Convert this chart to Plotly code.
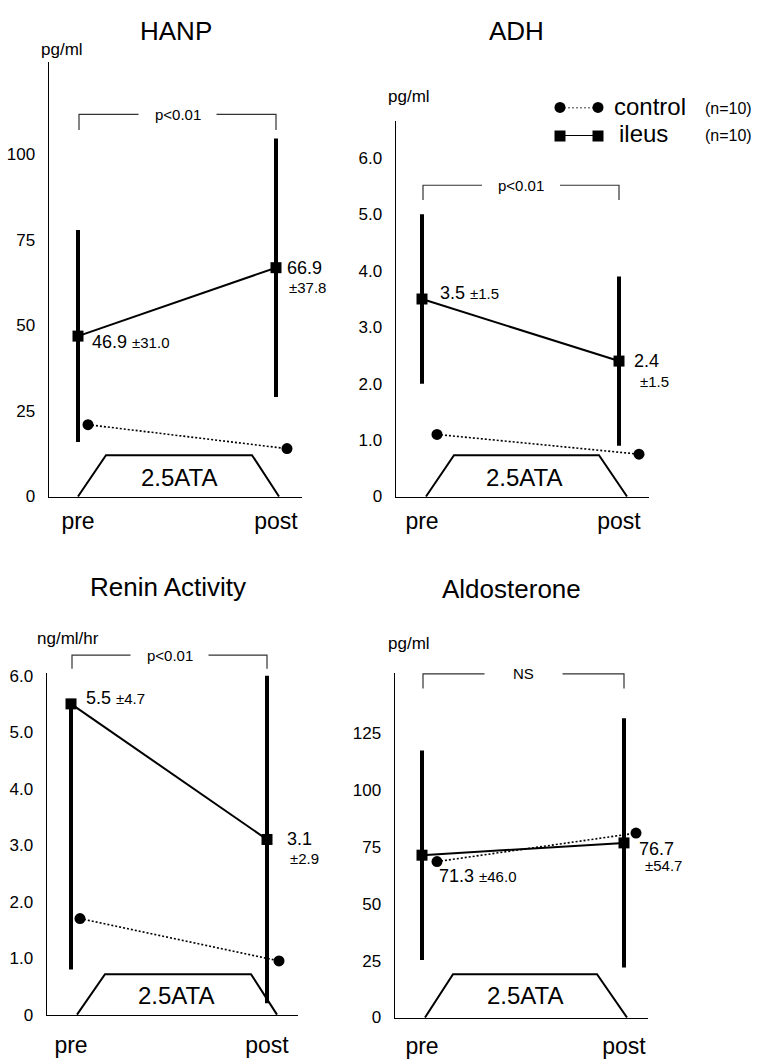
import plotly.graph_objects as go

W, H = 760, 1063
FONT = "Liberation Sans, Arial, Helvetica, sans-serif"

# ---------------- data ----------------
timepoints = ["pre", "post"]
panel_titles = ["HANP", "ADH", "Renin Activity", "Aldosterone"]
panel_units = ["pg/ml", "pg/ml", "ng/ml/hr", "pg/ml"]
significance = ["p<0.01", "p<0.01", "p<0.01", "NS"]

hanp_ileus_mean = [46.9, 66.9]
hanp_ileus_sd_up = [31.0, 37.8]
hanp_ileus_sd_down = [31.0, 37.8]
hanp_control_mean = [21.0, 14.0]

adh_ileus_mean = [3.5, 2.4]
adh_ileus_sd_up = [1.5, 1.5]
adh_ileus_sd_down = [1.5, 1.5]
adh_control_mean = [1.1, 0.75]

renin_ileus_mean = [5.5, 3.1]
renin_ileus_sd_up = [0.0, 2.9]      # upper bar of "pre" not drawn in the original
renin_ileus_sd_down = [4.7, 2.9]
renin_control_mean = [1.7, 0.95]

aldo_ileus_mean = [71.3, 76.7]
aldo_ileus_sd_up = [46.0, 54.7]
aldo_ileus_sd_down = [46.0, 54.7]
aldo_control_mean = [68.5, 81.0]

ileus_labels_sd = [["±31.0", "±37.8"], ["±1.5", "±1.5"], ["±4.7", "±2.9"], ["±46.0", "±54.7"]]

hanp_ticks = [0, 25, 50, 75, 100]
hanp_ticktext = ["0", "25", "50", "75", "100"]
adh_ticks = [0, 1, 2, 3, 4, 5, 6]
adh_ticktext = ["0", "1.0", "2.0", "3.0", "4.0", "5.0", "6.0"]
renin_ticks = [0, 1, 2, 3, 4, 5, 6]
renin_ticktext = ["0", "1.0", "2.0", "3.0", "4.0", "5.0", "6.0"]
aldo_ticks = [0, 25, 50, 75, 100, 125]
aldo_ticktext = ["0", "25", "50", "75", "100", "125"]

legend_names = ["control", "ileus"]
legend_n = ["(n=10)", "(n=10)"]
chamber_label = "2.5ATA"

# ---------------- layout geometry (pixels) ----------------
geo = [
    dict(x0=49, x1=302, ytop=57, ybot=498, pre=78, post=276, ymax=127.0,
         ticks=hanp_ticks, ticktext=hanp_ticktext, xlab_len=3,
         mean=hanp_ileus_mean, up=hanp_ileus_sd_up, dn=hanp_ileus_sd_down, ctrl=hanp_control_mean,
         ctrl_dx=[10, 11], title=(176, 25), unit=(62, 44), brk_y=110, brk_drop=16,
         trap=(78, 279, 106, 252, 456), trap_txt=(179, 479),
         lab_pre=(12, -6, None), lab_post=(9, 0, (11, -20))),
    dict(x0=396, x1=649, ytop=117, ybot=498, pre=422, post=619, ymax=6.65,
         ticks=adh_ticks, ticktext=adh_ticktext, xlab_len=3,
         mean=adh_ileus_mean, up=adh_ileus_sd_up, dn=adh_ileus_sd_down, ctrl=adh_control_mean,
         ctrl_dx=[15, 20], title=(516, 25), unit=(409, 92), brk_y=182, brk_drop=15,
         trap=(426, 627, 454, 599, 456), trap_txt=(524, 479),
         lab_pre=(16, 6, None), lab_post=(13, 0, (19, -20))),
    dict(x0=47, x1=298, ytop=677, ybot=1024, pre=71, post=267, ymax=6.05,
         ticks=renin_ticks, ticktext=renin_ticktext, xlab_len=9,
         mean=renin_ileus_mean, up=renin_ileus_sd_up, dn=renin_ileus_sd_down, ctrl=renin_control_mean,
         ctrl_dx=[9, 12], title=(168, 590), unit=(68, 642), brk_y=659, brk_drop=14,
         trap=(77, 277, 105, 251, 983), trap_txt=(176, 1005),
         lab_pre=(13, 6, None), lab_post=(18, 0, (21, -19))),
    dict(x0=395, x1=648, ytop=677, ybot=1027, pre=422, post=624, ymax=151.4,
         ticks=aldo_ticks, ticktext=aldo_ticktext, xlab_len=7,
         mean=aldo_ileus_mean, up=aldo_ileus_sd_up, dn=aldo_ileus_sd_down, ctrl=aldo_control_mean,
         ctrl_dx=[15, 12], title=(511, 592), unit=(409, 647), brk_y=678, brk_drop=15,
         trap=(425, 627, 453, 597, 983), trap_txt=(525, 1005),
         lab_pre=(15, -21, None), lab_post=(13, -6, (19, -23))),
]


def px(x):
    return x / W


def py(y):
    return 1 - y / H


def ann(x, y, text, size, xanchor="center", **kw):
    d = dict(x=px(x), y=py(y), xref="paper", yref="paper", text=text, showarrow=False,
             xanchor=xanchor, yanchor="middle", font=dict(size=size, color="black", family=FONT))
    d.update(kw)
    return d


fig = go.Figure()
shapes = []
annotations = []

for i, g in enumerate(geo):
    n = i + 1
    xa = "x" if n == 1 else f"x{n}"
    ya = "y" if n == 1 else f"y{n}"
    span = g["post"] - g["pre"]
    xr = [(g["x0"] - g["pre"]) / span, (g["x1"] - g["pre"]) / span]
    xpos = [0, 1]
    ctrl_x = [xpos[k] + g["ctrl_dx"][k] / span for k in range(2)]

    # control series
    fig.add_trace(go.Scatter(
        x=ctrl_x, y=g["ctrl"], xaxis=xa, yaxis=ya, mode="lines+markers",
        line=dict(color="black", width=1.6, dash="2px,2px"),
        marker=dict(symbol="circle", size=11, color="black"),
        cliponaxis=False, hoverinfo="skip"))
    # ileus series with SD bars
    fig.add_trace(go.Scatter(
        x=xpos, y=g["mean"], xaxis=xa, yaxis=ya, mode="lines+markers",
        line=dict(color="black", width=2),
        marker=dict(symbol="square", size=11, color="black"),
        error_y=dict(type="data", symmetric=False, array=g["up"], arrayminus=g["dn"],
                     thickness=4, width=0, color="black"),
        cliponaxis=False, hoverinfo="skip"))

    axis_common = dict(showline=True, linecolor="black", linewidth=1.5, showgrid=False,
                       zeroline=False, ticks="outside", tickcolor="rgba(0,0,0,0)", fixedrange=True)
    fig.layout[f"xaxis{'' if n == 1 else n}"] = dict(
        domain=[px(g["x0"]), px(g["x1"])], range=xr, anchor=ya,
        tickvals=xpos, ticktext=timepoints, ticklen=g["xlab_len"],
        tickfont=dict(size=23, color="black", family=FONT), **axis_common)
    fig.layout[f"yaxis{'' if n == 1 else n}"] = dict(
        domain=[py(g["ybot"]), py(g["ytop"])], range=[0, g["ymax"]], anchor=xa,
        tickvals=g["ticks"], ticktext=g["ticktext"], ticklen=9,
        tickfont=dict(size=17, color="black", family=FONT), **axis_common)

    # titles and units
    annotations.append(ann(g["title"][0], g["title"][1], panel_titles[i], 26))
    annotations.append(ann(g["unit"][0], g["unit"][1], panel_units[i], 17))

    # significance bracket
    bx0, bx1 = g["pre"] + 1, g["post"]
    by, bd = g["brk_y"], g["brk_y"] + g["brk_drop"]
    mid = (bx0 + bx1) / 2
    gap = 39
    bcol = "#333333"
    shapes.append(dict(type="path", xref="paper", yref="paper",
                       path=f"M {px(bx0)},{py(bd)} L {px(bx0)},{py(by)} L {px(mid - gap)},{py(by)}",
                       line=dict(color=bcol, width=1.2)))
    shapes.append(dict(type="path", xref="paper", yref="paper",
                       path=f"M {px(mid + gap)},{py(by)} L {px(bx1)},{py(by)} L {px(bx1)},{py(bd)}",
                       line=dict(color=bcol, width=1.2)))
    annotations.append(ann(mid, by, significance[i], 15))

    # 2.5 ATA trapezoid
    b0, b1, t0, t1, ty = g["trap"]
    shapes.append(dict(type="path", xref="paper", yref="paper",
                       path=(f"M {px(b0)},{py(g['ybot'])} L {px(t0)},{py(ty)} "
                             f"L {px(t1)},{py(ty)} L {px(b1)},{py(g['ybot'])}"),
                       line=dict(color="black", width=2)))
    annotations.append(ann(g["trap_txt"][0], g["trap_txt"][1], chamber_label, 24))

    # value labels
    dx, dy, _ = g["lab_pre"]
    pre_txt = f"{g['mean'][0]} <span style='font-size:15px'>{ileus_labels_sd[i][0]}</span>"
    annotations.append(dict(x=0, y=g["mean"][0], xref=xa, yref=ya, text=pre_txt, showarrow=False,
                            xanchor="left", yanchor="middle", xshift=dx, yshift=dy,
                            font=dict(size=18, color="black", family=FONT)))
    dx, dy, sd_off = g["lab_post"]
    annotations.append(dict(x=1, y=g["mean"][1], xref=xa, yref=ya, text=f"{g['mean'][1]}",
                            showarrow=False, xanchor="left", yanchor="middle", xshift=dx, yshift=dy,
                            font=dict(size=18, color="black", family=FONT)))
    annotations.append(dict(x=1, y=g["mean"][1], xref=xa, yref=ya, text=ileus_labels_sd[i][1],
                            showarrow=False, xanchor="left", yanchor="middle",
                            xshift=sd_off[0], yshift=sd_off[1],
                            font=dict(size=15, color="black", family=FONT)))

# ---------------- legend (overlay axis) ----------------
fig.add_trace(go.Scatter(x=[0, 1], y=[1, 1], xaxis="x5", yaxis="y5", mode="lines+markers",
                         line=dict(color="black", width=1.6, dash="2px,2px"),
                         marker=dict(symbol="circle", size=11, color="black"),
                         cliponaxis=False, hoverinfo="skip"))
fig.add_trace(go.Scatter(x=[0, 1], y=[0, 0], xaxis="x5", yaxis="y5", mode="lines+markers",
                         line=dict(color="black", width=2),
                         marker=dict(symbol="square", size=11, color="black"),
                         cliponaxis=False, hoverinfo="skip"))
fig.layout["xaxis5"] = dict(domain=[px(560), px(598)], range=[0, 1], visible=False, anchor="y5",
                            fixedrange=True)
fig.layout["yaxis5"] = dict(domain=[py(132), py(103)], range=[0, 1], visible=False, anchor="x5",
                            fixedrange=True)
for k, (name, nn) in enumerate(zip(legend_names, legend_n)):
    yy = [102, 129][k]
    annotations.append(ann(612 if k == 0 else 617, yy, name, 24, xanchor="left"))
    annotations.append(ann(703, yy + 2, nn, 16, xanchor="left"))

fig.update_layout(width=W, height=H, margin=dict(l=0, r=0, t=0, b=0),
                  paper_bgcolor="white", plot_bgcolor="white", showlegend=False,
                  shapes=shapes, annotations=annotations,
                  font=dict(family=FONT, color="black"))

fig.write_html("out.html", config={"displayModeBar": False, "staticPlot": True},
               post_script="document.body.style.margin='0px';document.body.style.padding='0px';")
